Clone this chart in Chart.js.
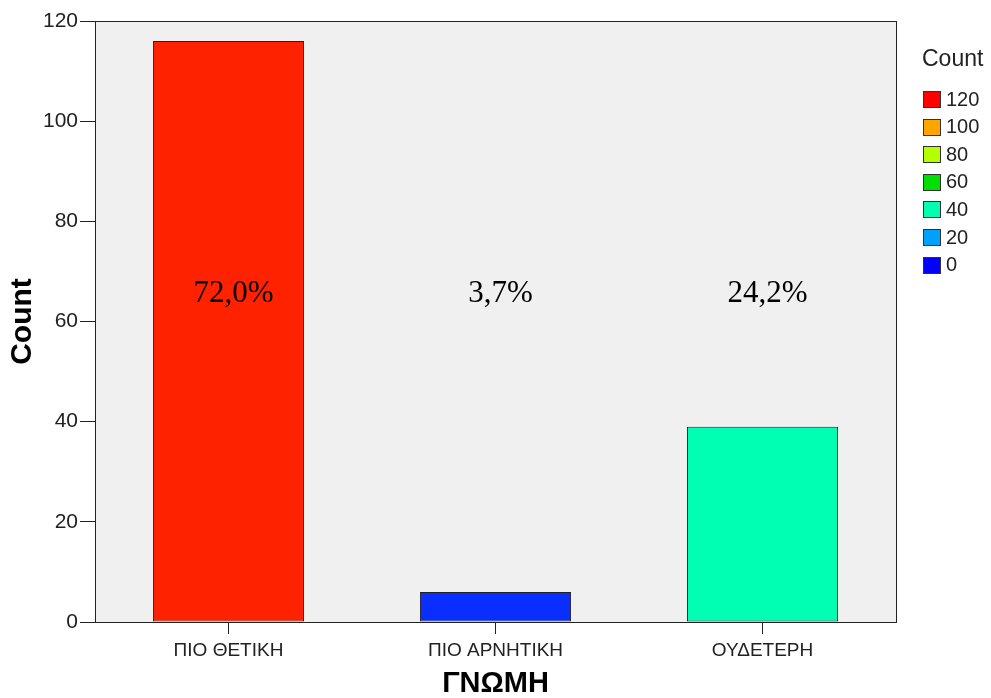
<!DOCTYPE html>
<html>
<head>
<meta charset="utf-8">
<script src="https://cdn.jsdelivr.net/npm/chart.js@4"></script>
<style>
html,body{margin:0;padding:0;background:#fff;overflow:hidden;}
#wrap{width:991px;height:698px;position:relative;}
canvas{display:block;}
</style>
</head>
<body>
<div id="wrap"><canvas id="c" width="991" height="698"></canvas></div>
<script>
const categories = ['ΠΙΟ ΘΕΤΙΚΗ', 'ΠΙΟ ΑΡΝΗΤΙΚΗ', 'ΟΥΔΕΤΕΡΗ'];
const counts = [116, 6, 39];
const percentLabels = ['72,0%', '3,7%', '24,2%'];
const barColors = ['#ff2200', '#0a2eff', '#00ffb2'];
const legendLabels = ['120', '100', '80', '60', '40', '20', '0'];
const legendColors = ['#ff0000', '#ffa500', '#b4ff00', '#00e000', '#00ffb0', '#00a0ff', '#0000ff'];
const yTitle = 'Count';
const xTitle = 'ΓΝΩΜΗ';
const legendTitle = 'Count';
const labelValueY = 65.6;

const sans = 'Arial, "Liberation Sans", sans-serif';
const serif = '"Times New Roman", "Liberation Serif", serif';

const plotDecor = {
  id: 'plotDecor',
  beforeDatasetsDraw(chart) {
    const {ctx, chartArea: a} = chart;
    ctx.save();
    ctx.fillStyle = '#f0f0f0';
    ctx.fillRect(a.left, a.top, a.right - a.left, a.bottom - a.top);
    ctx.restore();
  },
  afterDatasetsDraw(chart) {
    const {ctx, chartArea: a, scales} = chart;
    ctx.save();
    ctx.strokeStyle = '#222';
    ctx.lineWidth = 1;
    ctx.strokeRect(Math.round(a.left) + 0.5, Math.round(a.top) + 0.5, Math.round(a.right - a.left), Math.round(a.bottom - a.top));
    // percent labels
    ctx.fillStyle = '#000';
    ctx.font = '31px ' + serif;
    ctx.textAlign = 'center';
    ctx.textBaseline = 'middle';
    percentLabels.forEach((t, i) => {
      const x = scales.x.getPixelForValue(i) + 5;
      const y = scales.y.getPixelForValue(labelValueY);
      ctx.fillText(t, x, y);
    });
    // legend
    const lx = 923;
    ctx.font = '23px ' + sans;
    ctx.fillStyle = '#222';
    ctx.textAlign = 'left';
    ctx.fillText(legendTitle, 922, 60);
    ctx.font = '20px ' + sans;
    legendLabels.forEach((t, i) => {
      const y = 99 + i * 27.6;
      ctx.fillStyle = legendColors[i];
      ctx.fillRect(lx, Math.round(y - 8), 18, 17);
      ctx.strokeStyle = '#333';
      ctx.lineWidth = 1;
      ctx.strokeRect(lx + 0.5, Math.round(y - 8) + 0.5, 17, 16);
      ctx.fillStyle = '#222';
      ctx.fillText(t, 946, y + 1);
    });
    ctx.restore();
  }
};

new Chart(document.getElementById('c'), {
  type: 'bar',
  data: {
    labels: categories,
    datasets: [{
      data: counts,
      backgroundColor: barColors,
      borderColor: '#222',
      borderWidth: 1,
      borderSkipped: false,
      categoryPercentage: 1,
      barPercentage: 0.566
    }]
  },
  options: {
    responsive: false,
    animation: false,
    devicePixelRatio: 1,
    layout: {padding: {top: 21, right: 95, left: 0, bottom: 0}},
    plugins: {legend: {display: false}, tooltip: {enabled: false}},
    scales: {
      x: {
        grid: {display: true, offset: false, drawOnChartArea: false, drawTicks: true, tickLength: 12, color: '#222', tickColor: '#222'},
        border: {display: true, color: '#222', width: 1},
        ticks: {color: '#222', font: {size: 19, family: sans}, padding: 5, maxRotation: 0},
        title: {display: true, text: xTitle, color: '#000', font: {size: 29, weight: 'bold', family: sans, lineHeight: 1}, padding: {top: 0, bottom: 0}},
        afterFit(s) { s.height = 76; }
      },
      y: {
        min: 0, max: 120,
        ticks: {stepSize: 20, color: '#222', font: {size: 21, family: sans}, padding: 2},
        grid: {display: true, drawOnChartArea: false, drawTicks: true, tickLength: 15, color: '#222', tickColor: '#222'},
        border: {display: true, color: '#222', width: 1},
        title: {display: true, text: yTitle, color: '#000', font: {size: 30, weight: 'bold', family: sans}, padding: {top: 5, bottom: 0}},
        afterFit(s) { s.width = 95; }
      }
    }
  },
  plugins: [plotDecor]
});
</script>
</body>
</html>
